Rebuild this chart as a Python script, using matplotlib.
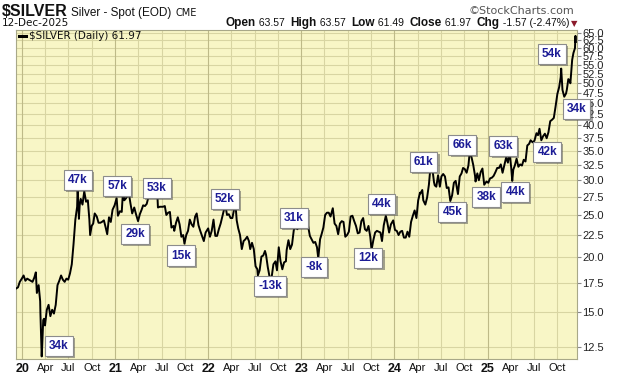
import numpy as np
import pandas as pd
import matplotlib
matplotlib.use("Agg")
from matplotlib import pyplot as plt
import matplotlib.patheffects as pe

# silver spot, approx weekly closes
dates = ["2019-12-09", "2019-12-16", "2019-12-23", "2019-12-31", "2020-01-07", "2020-01-14", "2020-01-21", "2020-01-28",
         "2020-02-04", "2020-02-11", "2020-02-18", "2020-02-24", "2020-02-28", "2020-03-06", "2020-03-12", "2020-03-13",
         "2020-03-16", "2020-03-18", "2020-03-20", "2020-03-24", "2020-03-27", "2020-03-31", "2020-04-07", "2020-04-14",
         "2020-04-21", "2020-04-28", "2020-05-05", "2020-05-12", "2020-05-19", "2020-05-26", "2020-06-02", "2020-06-09",
         "2020-06-16", "2020-06-23", "2020-06-30", "2020-07-07", "2020-07-14", "2020-07-21", "2020-07-24", "2020-07-28",
         "2020-08-04", "2020-08-06", "2020-08-11", "2020-08-14", "2020-08-18", "2020-08-25", "2020-09-01", "2020-09-08",
         "2020-09-15", "2020-09-21", "2020-09-24", "2020-09-30", "2020-10-06", "2020-10-12", "2020-10-20", "2020-10-27",
         "2020-11-03", "2020-11-09", "2020-11-17", "2020-11-24", "2020-11-30", "2020-12-07", "2020-12-14", "2020-12-21",
         "2020-12-29", "2021-01-06", "2021-01-11", "2021-01-19", "2021-01-26", "2021-02-01", "2021-02-05", "2021-02-12",
         "2021-02-23", "2021-03-01", "2021-03-08", "2021-03-16", "2021-03-23", "2021-03-31", "2021-04-07", "2021-04-14",
         "2021-04-20", "2021-04-27", "2021-05-04", "2021-05-11", "2021-05-18", "2021-05-25", "2021-06-01", "2021-06-08",
         "2021-06-15", "2021-06-17", "2021-06-24", "2021-06-30", "2021-07-07", "2021-07-14", "2021-07-20", "2021-07-27",
         "2021-08-03", "2021-08-09", "2021-08-17", "2021-08-20", "2021-08-27", "2021-09-03", "2021-09-10", "2021-09-17",
         "2021-09-24", "2021-09-29", "2021-10-06", "2021-10-13", "2021-10-20", "2021-10-27", "2021-11-03", "2021-11-10",
         "2021-11-16", "2021-11-23", "2021-11-30", "2021-12-07", "2021-12-14", "2021-12-21", "2021-12-31", "2022-01-07",
         "2022-01-14", "2022-01-21", "2022-01-28", "2022-02-04", "2022-02-11", "2022-02-18", "2022-02-24", "2022-03-01",
         "2022-03-08", "2022-03-15", "2022-03-22", "2022-03-29", "2022-04-05", "2022-04-12", "2022-04-18", "2022-04-22",
         "2022-04-28", "2022-05-05", "2022-05-12", "2022-05-19", "2022-05-26", "2022-06-02", "2022-06-09", "2022-06-14",
         "2022-06-21", "2022-06-28", "2022-07-05", "2022-07-12", "2022-07-14", "2022-07-21", "2022-07-28", "2022-08-04",
         "2022-08-11", "2022-08-15", "2022-08-22", "2022-08-31", "2022-09-07", "2022-09-13", "2022-09-21", "2022-09-27",
         "2022-10-04", "2022-10-11", "2022-10-18", "2022-10-25", "2022-11-01", "2022-11-04", "2022-11-11", "2022-11-18",
         "2022-11-25", "2022-12-02", "2022-12-09", "2022-12-16", "2022-12-23", "2022-12-30", "2023-01-06", "2023-01-13",
         "2023-01-20", "2023-01-27", "2023-02-03", "2023-02-10", "2023-02-17", "2023-02-24", "2023-03-03", "2023-03-08",
         "2023-03-15", "2023-03-21", "2023-03-28", "2023-04-04", "2023-04-11", "2023-04-18", "2023-04-25", "2023-05-04",
         "2023-05-11", "2023-05-18", "2023-05-25", "2023-06-01", "2023-06-08", "2023-06-15", "2023-06-22", "2023-06-29",
         "2023-07-06", "2023-07-13", "2023-07-20", "2023-07-27", "2023-08-03", "2023-08-10", "2023-08-17", "2023-08-24",
         "2023-08-31", "2023-09-07", "2023-09-14", "2023-09-21", "2023-09-28", "2023-10-03", "2023-10-10", "2023-10-17",
         "2023-10-24", "2023-10-31", "2023-11-07", "2023-11-13", "2023-11-20", "2023-11-28", "2023-12-04", "2023-12-11",
         "2023-12-18", "2023-12-27", "2024-01-03", "2024-01-10", "2024-01-17", "2024-01-24", "2024-01-31", "2024-02-07",
         "2024-02-14", "2024-02-21", "2024-02-28", "2024-03-06", "2024-03-13", "2024-03-20", "2024-03-27", "2024-04-03",
         "2024-04-10", "2024-04-12", "2024-04-19", "2024-04-23", "2024-05-01", "2024-05-08", "2024-05-15", "2024-05-20",
         "2024-05-28", "2024-06-04", "2024-06-07", "2024-06-13", "2024-06-20", "2024-06-27", "2024-07-03", "2024-07-10",
         "2024-07-17", "2024-07-24", "2024-07-31", "2024-08-07", "2024-08-14", "2024-08-21", "2024-08-28", "2024-09-06",
         "2024-09-13", "2024-09-20", "2024-09-26", "2024-10-03", "2024-10-10", "2024-10-17", "2024-10-22", "2024-10-29",
         "2024-11-05", "2024-11-12", "2024-11-14", "2024-11-21", "2024-11-27", "2024-12-04", "2024-12-11", "2024-12-18",
         "2024-12-27", "2025-01-03", "2025-01-10", "2025-01-17", "2025-01-24", "2025-01-31", "2025-02-07", "2025-02-14",
         "2025-02-21", "2025-02-28", "2025-03-07", "2025-03-14", "2025-03-21", "2025-03-27", "2025-04-03", "2025-04-07",
         "2025-04-11", "2025-04-17", "2025-04-24", "2025-05-01", "2025-05-08", "2025-05-15", "2025-05-22", "2025-05-29",
         "2025-06-05", "2025-06-12", "2025-06-18", "2025-06-26", "2025-07-03", "2025-07-11", "2025-07-17", "2025-07-23",
         "2025-07-30", "2025-08-06", "2025-08-13", "2025-08-20", "2025-08-27", "2025-09-03", "2025-09-10", "2025-09-17",
         "2025-09-24", "2025-10-01", "2025-10-08", "2025-10-14", "2025-10-16", "2025-10-21", "2025-10-28", "2025-11-04",
         "2025-11-07", "2025-11-13", "2025-11-18", "2025-11-21", "2025-11-28", "2025-12-03", "2025-12-09", "2025-12-11",
         "2025-12-12"]
prices = [17.0, 17.1, 17.6, 17.9, 18.2, 17.7, 17.9, 17.8,
          17.7, 17.6, 18.0, 18.5, 16.6, 17.3, 15.9, 14.9,
          12.9, 11.9, 12.6, 14.4, 14.5, 14.0, 15.2, 15.6,
          14.7, 15.2, 14.9, 15.6, 17.3, 17.7, 18.2, 17.8,
          17.6, 17.9, 17.8, 18.4, 19.3, 21.5, 22.7, 24.4,
          26.1, 28.9, 24.5, 26.3, 27.2, 26.4, 28.3, 26.8,
          27.0, 24.4, 22.5, 23.6, 23.9, 25.2, 24.8, 24.0,
          24.0, 24.1, 24.3, 23.4, 22.6, 24.7, 24.1, 25.7,
          26.3, 27.3, 24.9, 25.5, 25.4, 29.0, 27.0, 27.3,
          28.0, 26.6, 25.2, 26.0, 25.1, 24.2, 25.1, 25.7,
          26.3, 26.2, 26.5, 27.5, 28.1, 27.8, 28.0, 27.8,
          27.6, 26.0, 26.1, 26.1, 26.1, 26.2, 25.0, 25.3,
          25.4, 23.4, 23.6, 23.0, 24.0, 24.7, 23.8, 22.3,
          22.5, 21.5, 22.5, 23.0, 24.4, 23.8, 23.5, 24.8,
          25.2, 23.7, 23.0, 22.4, 21.8, 22.8, 23.3, 22.3,
          23.0, 24.4, 22.4, 22.4, 23.2, 23.9, 24.7, 25.4,
          26.4, 25.0, 25.1, 24.6, 24.6, 25.8, 26.1, 24.3,
          23.3, 22.5, 20.9, 21.8, 22.0, 22.3, 21.8, 20.9,
          21.6, 20.9, 19.1, 18.8, 18.2, 18.7, 20.1, 20.2,
          20.7, 20.3, 19.0, 17.8, 18.2, 19.3, 19.6, 18.7,
          21.1, 19.6, 18.8, 19.5, 19.6, 20.8, 21.9, 20.9,
          21.4, 23.1, 23.5, 23.2, 23.8, 24.0, 24.0, 24.3,
          24.0, 23.6, 22.4, 22.0, 21.6, 21.7, 21.1, 19.9,
          22.0, 22.6, 23.4, 25.0, 25.3, 25.3, 24.8, 25.9,
          23.9, 23.6, 22.6, 23.9, 24.2, 24.1, 22.3, 22.5,
          22.9, 24.8, 24.9, 24.2, 23.6, 22.7, 22.8, 24.2,
          24.6, 23.2, 23.0, 23.6, 22.3, 20.8, 21.9, 22.8,
          23.0, 22.9, 22.8, 21.8, 23.7, 24.9, 24.0, 22.8,
          23.8, 24.3, 23.1, 23.0, 22.5, 22.9, 23.0, 22.2,
          22.2, 22.9, 22.3, 24.1, 24.9, 25.6, 24.6, 27.0,
          28.1, 28.0, 28.5, 27.0, 26.4, 27.4, 29.3, 31.6,
          32.1, 29.7, 29.2, 29.0, 30.8, 29.0, 30.6, 31.0,
          30.6, 28.8, 28.9, 26.9, 27.7, 29.6, 29.9, 27.9,
          30.6, 31.1, 32.0, 31.8, 31.2, 32.4, 34.7, 33.9,
          32.5, 30.7, 29.8, 31.1, 30.0, 31.3, 31.9, 29.3,
          29.8, 29.6, 30.3, 30.4, 30.7, 31.3, 32.0, 32.0,
          32.6, 31.2, 32.5, 33.8, 32.9, 34.9, 32.0, 29.9,
          31.7, 32.4, 33.6, 32.2, 32.6, 32.4, 33.4, 33.1,
          36.0, 36.3, 37.0, 36.6, 36.9, 38.4, 38.0, 39.3,
          37.0, 37.8, 38.3, 37.4, 38.6, 40.9, 41.2, 41.6,
          44.2, 47.2, 48.9, 51.5, 53.9, 48.2, 46.5, 47.3,
          48.2, 51.0, 50.7, 49.9, 56.4, 58.5, 60.0, 64.0,
          61.97]

# boxed annotations
note_text = ["34k", "47k", "57k", "29k", "53k", "15k", "52k", "-13k", "31k", "-8k", "12k",
             "44k", "61k", "45k", "66k", "38k", "63k", "44k", "42k", "54k", "34k"]
note_date = ["2020-05-25", "2020-08-08", "2021-01-08", "2021-03-19", "2021-06-13", "2021-09-16",
             "2022-03-07", "2022-08-31", "2022-12-03", "2023-02-20", "2023-09-21", "2023-11-11",
             "2024-04-24", "2024-08-15", "2024-09-23", "2024-12-26", "2025-03-03", "2025-04-19",
             "2025-08-23", "2025-09-08", "2025-12-15"]
note_price = [12.57, 30.06, 29.1, 22.6, 28.8, 20.2, 27.2, 17.2, 24.6, 19.0, 19.95, 26.5,
              33.0, 25.4, 36.1, 27.5, 35.9, 28.2, 34.8, 58.3, 43.6]

yticks = [12.5, 15.0, 17.5, 20.0, 22.5, 25.0, 27.5, 30.0, 32.5, 35.0, 37.5, 40.0,
          42.5, 45.0, 47.5, 50.0, 52.5, 55.0, 57.5, 60.0, 62.5, 65.0]
quarters = pd.date_range("2020-01-01", "2025-10-01", freq="QS")
qlabels = [q.strftime("%y") if q.month == 1 else q.strftime("%b") for q in quarters]

W, H = 620, 376
fig = plt.figure(figsize=(W / 100, H / 100), dpi=100)
fig.patch.set_facecolor("white")
ax = fig.add_axes([15.7 / W, 1 - 359 / H, (577 - 15.7) / W, (359 - 30) / H])
ax.set_facecolor("#F8F6C6")

x = pd.to_datetime(dates)
ax.plot(x, prices, color="black", lw=1.4, zorder=3)

ax.set_yscale("log")
ax.set_ylim(11.74, 66.0)
ax.set_xlim(pd.Timestamp("2019-12-07"), pd.Timestamp("2025-12-17"))
ax.yaxis.tick_right()
ax.set_yticks(yticks)
ax.set_yticklabels(["%.1f" % v for v in yticks])
ax.yaxis.set_minor_locator(matplotlib.ticker.NullLocator())
ax.tick_params(axis="y", which="major", length=3, width=0.8, color="#888888",
               labelsize=8, labelcolor="#222222", pad=1)
for t in ax.get_yticklabels():
    t.set_fontfamily("Liberation Sans")

ax.set_xticks(quarters)
ax.set_xticklabels(qlabels)
ax.tick_params(axis="x", length=0, labelsize=8, pad=3, labelcolor="#111111")
for t, q in zip(ax.get_xticklabels(), quarters):
    t.set_fontfamily("Liberation Sans")
    if q.month == 1:
        t.set_fontweight("bold")
        t.set_fontsize(9)

for v in yticks:
    ax.axhline(v, color="#D8D5A2", lw=0.8, zorder=1)
for q in quarters:
    ax.axvline(q, color="#BEBA88" if q.month == 1 else "#D8D5A2", lw=0.8, zorder=1)
for s in ax.spines.values():
    s.set_color("#A8A888")
    s.set_linewidth(0.8)

for txt, d, p in zip(note_text, note_date, note_price):
    t = ax.text(pd.Timestamp(d), p, txt, ha="center", va="center", fontsize=8.5,
                fontweight="bold", color="#1C1C96", family="Liberation Sans", zorder=5,
                bbox=dict(boxstyle="square,pad=0.35", fc="white", ec="#8C8C8C", lw=0.8),
                clip_on=False)
    t.get_bbox_patch().set_path_effects([pe.SimplePatchShadow(offset=(1.5, -1.5), alpha=0.5),
                                         pe.Normal()])

# legend inside plot
ax.plot([0.006, 0.019], [0.982, 0.982], transform=ax.transAxes, color="black", lw=2.2, zorder=6)
ax.text(0.024, 0.982, "$SILVER (Daily) 61.97", transform=ax.transAxes, fontsize=7.5,
        va="center", ha="left", color="#111111", zorder=6)

# header
def fx(px):
    return px / W

def fy(py):
    return 1 - py / H

fig.canvas.draw()
r = fig.canvas.get_renderer()

title_parts = [("$SILVER", 11.5, "bold", "Liberation Sans", 2),
               ("Silver - Spot (EOD)", 8.5, "normal", "Liberation Sans", 3),
               ("CME", 7, "normal", "DejaVu Sans", 4)]
xpos = 2
for s, size, wt, fam, gap in title_parts:
    if s != "$SILVER":
        xpos += gap
    t = fig.text(fx(xpos), fy(16), s, fontsize=size, fontweight=wt, family=fam,
                 va="baseline", color="#111111")
    xpos += t.get_window_extent(r).width

fig.text(fx(574), fy(14), "\u00a9StockCharts.com", fontsize=8, family="DejaVu Sans",
         ha="right", va="baseline", color="#555555")
fig.text(fx(2), fy(26), "12-Dec-2025", fontsize=7.5, family="DejaVu Sans", va="baseline",
         color="#111111")

parts = [("Open", True), (" 63.57  ", False), ("High", True), (" 63.57  ", False),
         ("Low", True), (" 61.49  ", False), ("Close", True), (" 61.97  ", False),
         ("Chg", True), (" -1.57 (-2.47%)", False)]
xpos = 569
for s, b in reversed(parts):
    t = fig.text(fx(xpos), fy(26), s, fontsize=8.5 if b else 7.5,
                 fontweight="bold" if b else "normal", family="Liberation Sans",
                 ha="right", va="baseline", color="#111111")
    xpos -= t.get_window_extent(r).width
fig.text(fx(571), fy(26), "\u25bc", fontsize=6, color="#8B1A2B", va="baseline", ha="left")

fig.savefig("out.png", dpi=100)
